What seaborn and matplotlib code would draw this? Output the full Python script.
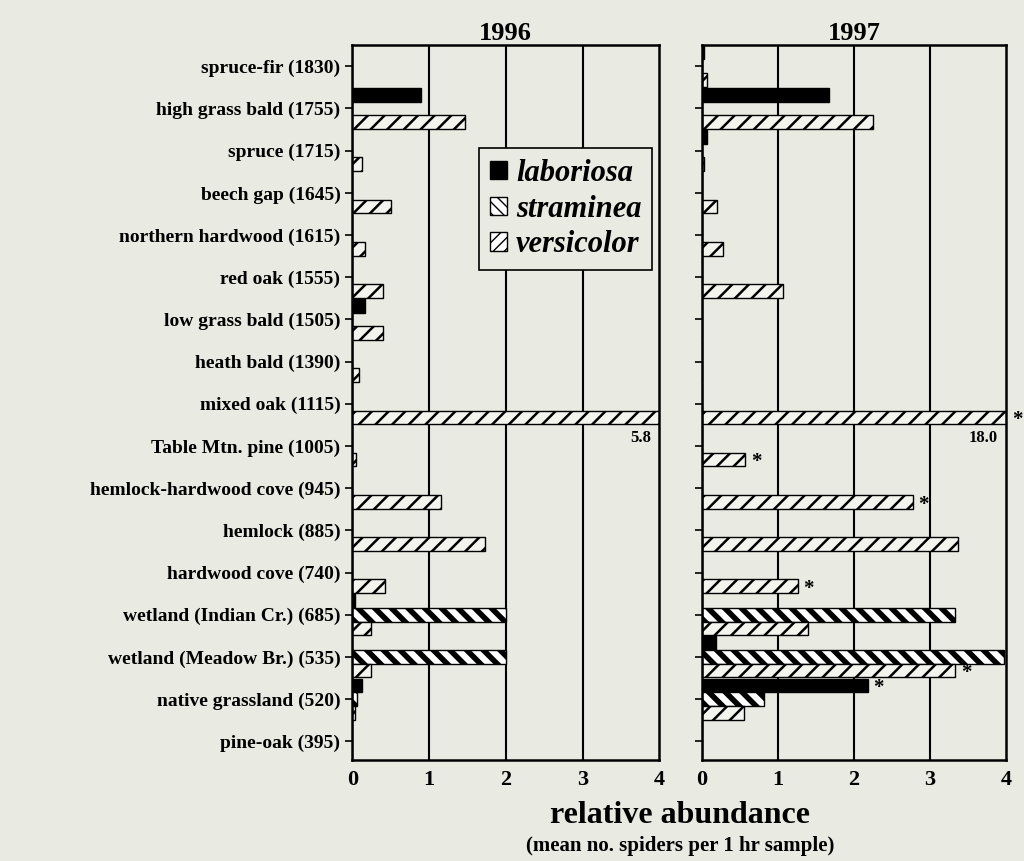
import numpy as np
import pandas as pd
import matplotlib
matplotlib.use("Agg")
import matplotlib.pyplot as plt
import seaborn as sns
from matplotlib.patches import Patch

# data
sites = [
    "spruce-fir (1830)", "high grass bald (1755)", "spruce (1715)", "beech gap (1645)",
    "northern hardwood (1615)", "red oak (1555)", "low grass bald (1505)",
    "heath bald (1390)", "mixed oak (1115)", "Table Mtn. pine (1005)",
    "hemlock-hardwood cove (945)", "hemlock (885)", "hardwood cove (740)",
    "wetland (Indian Cr.) (685)", "wetland (Meadow Br.) (535)",
    "native grassland (520)", "pine-oak (395)",
]
species = ["laboriosa", "straminea", "versicolor"]

lab_96 = [0, 0.90, 0, 0, 0, 0, 0.16, 0, 0, 0, 0, 0, 0, 0.04, 0, 0.13, 0]
str_96 = [0, 0, 0, 0, 0, 0, 0, 0, 0, 0, 0, 0, 0, 2.0, 2.0, 0.06, 0]
ver_96 = [0, 1.47, 0.13, 0.50, 0.16, 0.40, 0.40, 0.09, 5.8, 0.05, 1.16, 1.73, 0.43, 0.24, 0.24, 0.04, 0]

lab_97 = [0.03, 1.67, 0.06, 0, 0, 0, 0, 0, 0, 0, 0, 0, 0, 0, 0.18, 2.18, 0]
str_97 = [0, 0, 0, 0, 0, 0, 0, 0, 0, 0, 0, 0, 0, 3.33, 3.97, 0.82, 0]
ver_97 = [0.06, 2.25, 0.03, 0.20, 0.28, 1.07, 0, 0, 18.0, 0.57, 2.77, 3.37, 1.26, 1.40, 3.33, 0.55, 0]

years = ["1996", "1997"]
values = {"1996": (lab_96, str_96, ver_96), "1997": (lab_97, str_97, ver_97)}
stars = {
    "1996": [],
    "1997": [("mixed oak (1115)", "versicolor"), ("Table Mtn. pine (1005)", "versicolor"),
             ("hemlock-hardwood cove (945)", "versicolor"), ("hardwood cove (740)", "versicolor"),
             ("wetland (Meadow Br.) (535)", "versicolor"), ("native grassland (520)", "laboriosa")],
}
xmax = 4

bg = "#e9eae2"
styles = {
    "laboriosa": dict(facecolor="black", hatch=None, hlw=1.0),
    "straminea": dict(facecolor="white", hatch="\\\\", hlw=4.0),
    "versicolor": dict(facecolor="#f4f4ef", hatch="//", hlw=1.8),
}

sns.set_style("ticks")
plt.rcParams["font.family"] = ["Liberation Serif", "DejaVu Serif"]
plt.rcParams["font.weight"] = "bold"
plt.rcParams["hatch.color"] = "black"
for k in ["text.color", "axes.labelcolor", "xtick.color", "ytick.color", "axes.edgecolor"]:
    plt.rcParams[k] = "black"

fig = plt.figure(figsize=(10.24, 8.61), dpi=100, facecolor=bg)
ax1 = fig.add_axes([0.344, 0.117, 0.2998, 0.8305])
ax2 = fig.add_axes([0.6855, 0.117, 0.297, 0.8305], sharey=ax1)

for ax, yr in zip([ax1, ax2], years):
    lab, stra, ver = values[yr]
    df = pd.DataFrame({
        "site": sites * 3,
        "species": np.repeat(species, len(sites)),
        "value": lab + stra + ver,
    })
    sns.barplot(data=df, y="site", x="value", hue="species", hue_order=species,
                order=sites, orient="h", width=0.97, errorbar=None, legend=False,
                saturation=1, ax=ax)
    for cont, sp in zip(ax.containers, species):
        st = styles[sp]
        for bar in cont:
            bar.set_facecolor(st["facecolor"])
            bar.set_edgecolor("black")
            bar.set_linewidth(1.0)
            if st["hatch"]:
                bar.set_hatch(st["hatch"])
                if hasattr(bar, "set_hatch_linewidth"):
                    bar.set_hatch_linewidth(st["hlw"])

    ax.set_facecolor(bg)
    ax.set_xlim(0, xmax)
    ax.set_ylim(16.45, -0.5)
    ax.set_xticks([0, 1, 2, 3, 4])
    ax.set_xticklabels(["0", "1", "2", "3", "4"], fontsize=16, fontweight="bold")
    ax.tick_params(axis="x", length=0, pad=7)
    ax.tick_params(axis="y", length=5, width=1.2, direction="out")
    for x in [1, 2, 3]:
        ax.axvline(x, color="black", lw=1.5, zorder=0)
    for s in ax.spines.values():
        s.set_visible(True)
        s.set_linewidth(1.8)
    ax.set_xlabel("")
    ax.set_ylabel("")
    ax.set_title(yr, fontsize=19, fontweight="bold", pad=3)

    # off-scale bars: value printed under the bar
    for cont, sp in zip(ax.containers, species):
        for bar, v in zip(cont, df.loc[df["species"] == sp, "value"]):
            if v > xmax:
                yc = bar.get_y() + bar.get_height() / 2
                ax.annotate(f"{v:.1f}", xy=(xmax, yc), xytext=(-6, -15),
                            textcoords="offset points", ha="right", va="center",
                            fontsize=12, fontweight="bold")

    # significance stars
    for site, sp in stars[yr]:
        bar = ax.containers[species.index(sp)][sites.index(site)]
        xe = min(bar.get_width(), xmax)
        yc = bar.get_y() + bar.get_height() / 2
        ax.annotate("*", xy=(xe, yc), xytext=(4, -2), textcoords="offset points",
                    ha="left", va="center", fontsize=15, fontweight="bold",
                    annotation_clip=False)

ax1.set_yticklabels(sites, fontsize=14, fontweight="bold")
ax2.tick_params(axis="y", labelleft=False)

handles = [
    Patch(facecolor="black", edgecolor="black"),
    Patch(facecolor="white", edgecolor="black", hatch="\\\\\\"),
    Patch(facecolor="white", edgecolor="black", hatch="///"),
]
leg = ax1.legend(handles, species, loc="upper right", bbox_to_anchor=(0.977, 0.856),
                 borderaxespad=0, frameon=True, fancybox=False, framealpha=1,
                 facecolor=bg, edgecolor="black",
                 handlelength=0.55, handleheight=0.55, handletextpad=0.3, labelspacing=0.22,
                 borderpad=0.35, prop={"family": "Liberation Serif", "style": "italic",
                                       "weight": "bold", "size": 22})
leg.get_frame().set_linewidth(1.2)

fig.text(0.664, 0.053, "relative abundance", ha="center", va="center",
         fontsize=23, fontweight="bold")
fig.text(0.664, 0.018, "(mean no. spiders per 1 hr sample)", ha="center", va="center",
         fontsize=15, fontweight="bold")

fig.savefig("out.png", dpi=100, facecolor=bg)
